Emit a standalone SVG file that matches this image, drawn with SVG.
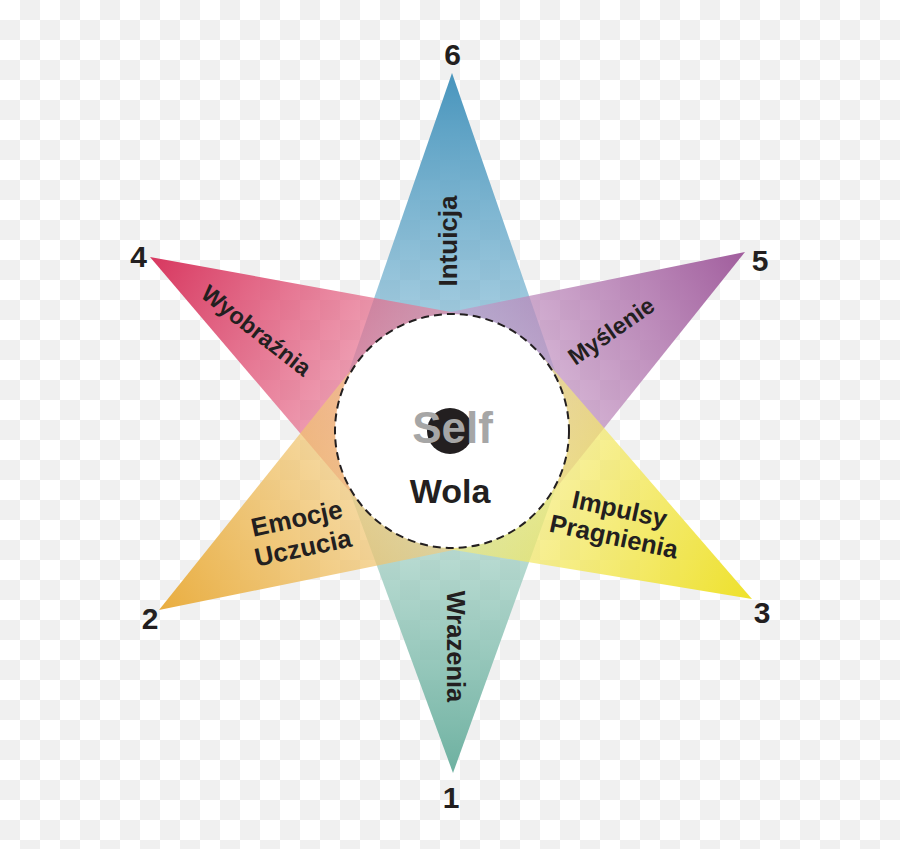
<svg xmlns="http://www.w3.org/2000/svg" width="900" height="849" viewBox="0 0 900 849">
  <style>
    .lbl { font-family: "Liberation Sans", Arial, sans-serif; font-weight: bold; fill: #231f20; text-anchor: middle; }
    .num { font-family: "Liberation Sans", Arial, sans-serif; font-weight: bold; font-size: 30px; fill: #231f20; text-anchor: middle; }
    .ray { stroke: none; }
  </style>
  <defs>
    <pattern id="checker" width="40" height="40" patternUnits="userSpaceOnUse">
      <rect width="40" height="40" fill="#ffffff"/>
      <rect x="20" y="0" width="20" height="20" fill="#f0f0f0"/>
      <rect x="0" y="20" width="20" height="20" fill="#f0f0f0"/>
    </pattern>
    <linearGradient id="g6" gradientUnits="userSpaceOnUse" x1="452" y1="73" x2="452" y2="431">
      <stop offset="0" stop-color="#3f90ba" stop-opacity="0.95"/>
      <stop offset="1" stop-color="#8fc3da" stop-opacity="0.55"/>
    </linearGradient>
    <linearGradient id="g1" gradientUnits="userSpaceOnUse" x1="453" y1="773" x2="452" y2="431">
      <stop offset="0" stop-color="#66ad9c" stop-opacity="0.95"/>
      <stop offset="1" stop-color="#b5dbd0" stop-opacity="0.55"/>
    </linearGradient>
    <linearGradient id="g4" gradientUnits="userSpaceOnUse" x1="150" y1="257" x2="452" y2="431">
      <stop offset="0" stop-color="#d62d57" stop-opacity="0.95"/>
      <stop offset="1" stop-color="#ee8fa8" stop-opacity="0.55"/>
    </linearGradient>
    <linearGradient id="g5" gradientUnits="userSpaceOnUse" x1="745" y1="252" x2="452" y2="431">
      <stop offset="0" stop-color="#9c5598" stop-opacity="0.95"/>
      <stop offset="1" stop-color="#d0a8d0" stop-opacity="0.55"/>
    </linearGradient>
    <linearGradient id="g2" gradientUnits="userSpaceOnUse" x1="159" y1="610" x2="452" y2="431">
      <stop offset="0" stop-color="#e8a935" stop-opacity="0.95"/>
      <stop offset="1" stop-color="#f5d490" stop-opacity="0.55"/>
    </linearGradient>
    <linearGradient id="g3" gradientUnits="userSpaceOnUse" x1="752" y1="599" x2="452" y2="431">
      <stop offset="0" stop-color="#eee020" stop-opacity="0.95"/>
      <stop offset="1" stop-color="#f7ee90" stop-opacity="0.55"/>
    </linearGradient>
  </defs>

  <rect width="900" height="849" fill="url(#checker)"/>

  <g id="node-intuicja">
    <polygon class="ray" points="452,73 562.6,392.8 452,431 341.4,392.8" fill="url(#g6)"/>
  </g>
  <g id="node-wrazenia">
    <polygon class="ray" points="453,773 561.9,471 452,431 342.1,471" fill="url(#g1)"/>
  </g>
  <g id="node-wyobraznia">
    <polygon class="ray" points="150,257 473,315.9 452,431 362.9,506.9" fill="url(#g4)"/>
  </g>
  <g id="node-myslenie">
    <polygon class="ray" points="745,252 543.4,504.1 452,431 428.7,316.4" fill="url(#g5)"/>
  </g>
  <g id="node-emocje">
    <polygon class="ray" points="159,610 360.6,357.9 452,431 475.3,545.6" fill="url(#g2)"/>
  </g>
  <g id="node-impulsy">
    <polygon class="ray" points="752,599 433,546.5 452,431 540.5,354.5" fill="url(#g3)"/>
  </g>

  <g id="labels">
    <text class="lbl" font-size="26" transform="translate(457,241) rotate(-90)" x="0" y="0">Intuicja</text>
    <text class="lbl" font-size="25.5" transform="translate(447,646.5) rotate(90)" x="0" y="0">Wrazenia</text>
    <text class="lbl" font-size="23.5" transform="translate(256,331) rotate(38)" x="0" y="7.5">Wyobraźnia</text>
    <text class="lbl" font-size="23.5" transform="translate(611.5,331.5) rotate(-35)" x="0" y="7.5">Myślenie</text>
    <g transform="translate(300,534) rotate(-12)">
      <text class="lbl" font-size="26" x="0" y="-7">Emocje</text>
      <text class="lbl" font-size="26" x="0" y="23">Uczucia</text>
    </g>
    <g transform="translate(616.5,524) rotate(12)">
      <text class="lbl" font-size="25.5" x="0" y="-6.5">Impulsy</text>
      <text class="lbl" font-size="25.5" x="0" y="21.5">Pragnienia</text>
    </g>
  </g>

  <g id="numbers">
    <text class="num" x="452.5" y="65">6</text>
    <text class="num" x="138.5" y="267">4</text>
    <text class="num" x="760" y="271">5</text>
    <text class="num" x="150" y="629">2</text>
    <text class="num" x="762" y="623">3</text>
    <text class="num" x="451" y="808">1</text>
  </g>

  <g id="node-self">
    <circle cx="452" cy="431" r="117" fill="#ffffff" stroke="#231f20" stroke-width="2" stroke-dasharray="8 5"/>
    <circle cx="450" cy="431" r="23" fill="#231f20"/>
    <text class="lbl" font-size="44" x="452.5" y="443" style="fill:#a6a6a6">Self</text>
    <text class="lbl" font-size="34" x="450" y="503">Wola</text>
  </g>
</svg>
